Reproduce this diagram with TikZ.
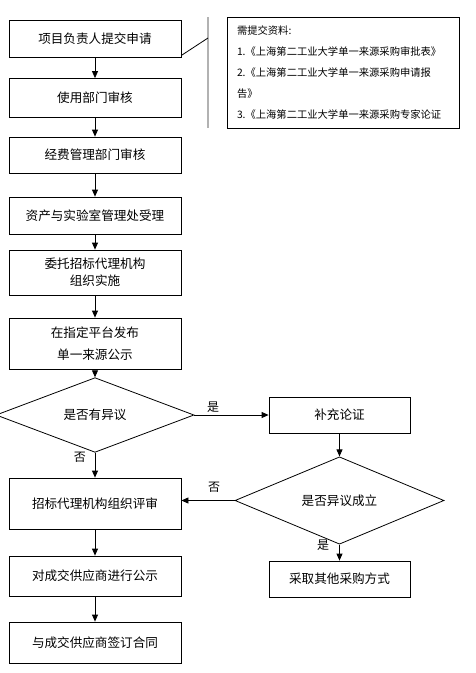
\documentclass[tikz,border=0pt]{standalone}
\usepackage{fontspec}
\setmainfont{Noto Sans CJK SC}
\usetikzlibrary{shapes.geometric,arrows.meta}
\begin{document}
\begin{tikzpicture}[x=1pt,y=-1pt,
  stepbox/.style={draw,line width=0.8pt,minimum width=172pt,inner sep=0pt,align=center,font=\fontsize{12.6}{17}\selectfont},
  sidebox/.style={stepbox,minimum width=141pt,minimum height=36pt},
  choice/.style={draw,diamond,line width=0.8pt,inner sep=0pt,font=\fontsize{12.6}{17}\selectfont},
  flow/.style={draw,line width=0.8pt,-{Triangle[width=6pt,length=7pt]}},
  lab/.style={font=\fontsize{12}{14}\selectfont,inner sep=0pt}]
\useasboundingbox (0,0) rectangle (476,673);

\node[stepbox,minimum height=37pt] (apply) at (95,38.5) {项目负责人提交申请};
\node[stepbox,minimum height=39pt] (dept) at (95,98) {使用部门审核};
\node[stepbox,minimum height=36pt] (fund) at (95,155) {经费管理部门审核};
\node[stepbox,minimum height=37pt] (asset) at (95,215.5) {资产与实验室管理处受理};
\node[stepbox,minimum height=45pt] (agent) at (95,272.5) {委托招标代理机构\\组织实施};
\node[stepbox,minimum height=51pt,font=\fontsize{12.6}{22}\selectfont] (notice) at (95,343.5) {在指定平台发布\\单一来源公示};
\node[choice,minimum width=198pt,minimum height=56pt] (ask) at (95,415) {是否有异议};
\node[sidebox] (extra) at (339.5,415) {补充论证};
\node[stepbox,minimum height=51pt] (review) at (95,503.5) {招标代理机构组织评审};
\node[choice,minimum width=209pt,minimum height=55pt] (valid) at (339.5,500.5) {是否异议成立};
\node[sidebox] (other) at (339.5,579) {采取其他采购方式};
\node[stepbox,minimum height=40pt] (public) at (95,576) {对成交供应商进行公示};
\node[stepbox,minimum height=41pt] (sign) at (95,642.5) {与成交供应商签订合同};

\node[draw,line width=0.8pt,minimum width=232pt,minimum height=111pt,text width=212pt,inner xsep=10pt,align=left,
  font=\fontsize{10.3}{21}\selectfont] (note) at (343,72.5)
  {需提交资料:\\1.《上海第二工业大学单一来源采购审批表》\\2.《上海第二工业大学单一来源采购申请报\\告》\\3.《上海第二工业大学单一来源采购专家论证};
\coordinate (bartop) at (208,17);
\coordinate (barbot) at (208,128);
\coordinate (bend) at (208,38);
\draw[gray!60,line width=1.6pt] (bartop) -- (barbot);
\draw[line width=0.8pt] ([yshift=2pt]apply.south east) -- (bend);

\draw[flow] (apply) -- (dept);
\draw[flow] (dept) -- (fund);
\draw[flow] (fund) -- (asset);
\draw[flow] (asset) -- (agent);
\draw[flow] (agent) -- (notice);
\draw[flow] (notice) -- (ask);
\draw[flow] (ask.south) -- (review.north);
\draw[flow] (ask.east) -- (extra.west);
\draw[flow] (extra.south) -- (valid.north);
\draw[flow] (valid.west) -- (valid.west -| review.east);
\draw[flow] (valid.south) -- (other.north);
\draw[flow] (review) -- (public);
\draw[flow] (public) -- (sign);

\node[lab] (yes1) at (213,407) {是};
\node[lab] (no1) at (80,457) {否};
\node[lab] (no2) at (214,487) {否};
\node[lab] (yes2) at (323,545) {是};
\end{tikzpicture}
\end{document}
